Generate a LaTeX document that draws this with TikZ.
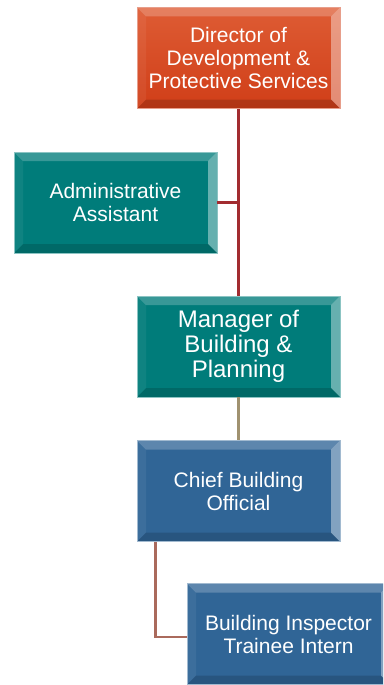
\documentclass[tikz,border=0pt]{standalone}
\usepackage{fontspec}
\setmainfont{Liberation Sans}
\usetikzlibrary{calc}

\definecolor{dirred}{RGB}{208,62,24}
\definecolor{dirredtop}{RGB}{222,92,52}
\definecolor{tealbox}{RGB}{0,124,122}
\definecolor{bluebox}{RGB}{48,101,150}
\definecolor{lineone}{RGB}{162,44,48}
\definecolor{linetwo}{RGB}{160,146,112}
\definecolor{linethree}{RGB}{170,106,92}

\newcommand{\bevelpp}{%
	\fill[white,opacity=.22] (path picture bounding box.north west) -- (path picture bounding box.north east)
		-- ([shift={(-9pt,-9pt)}]path picture bounding box.north east) -- ([shift={(9pt,-9pt)}]path picture bounding box.north west) -- cycle;
	\fill[white,opacity=.4] (path picture bounding box.north east) -- (path picture bounding box.south east)
		-- ([shift={(-9pt,9pt)}]path picture bounding box.south east) -- ([shift={(-9pt,-9pt)}]path picture bounding box.north east) -- cycle;
	\fill[black,opacity=.15] (path picture bounding box.south west) -- (path picture bounding box.south east)
		-- ([shift={(-9pt,9pt)}]path picture bounding box.south east) -- ([shift={(9pt,9pt)}]path picture bounding box.south west) -- cycle;
	\fill[white,opacity=.06] (path picture bounding box.north west) -- (path picture bounding box.south west)
		-- ([shift={(9pt,9pt)}]path picture bounding box.south west) -- ([shift={(9pt,-9pt)}]path picture bounding box.north west) -- cycle;
}

\begin{document}
\begin{tikzpicture}[
		x=1pt, y=-1pt,
		box/.style={rectangle, minimum width=203pt, minimum height=101pt, inner sep=0pt,
			text=white, align=center, font=\fontsize{21}{23}\selectfont, path picture={\bevelpp}},
		dirbox/.style={box, top color=dirredtop, bottom color=dirred, draw=dirred!50!white, line width=.8pt},
		tbox/.style={box, fill=tealbox, draw=tealbox!45!white, line width=.8pt},
		bbox/.style={box, fill=bluebox, draw=bluebox!45!white, line width=.8pt},
		conn/.style={line width=2.3pt}]
	%% frame
	\useasboundingbox (0,0) rectangle (383,685);
	\clip (0,0) rectangle (383,685);
	%% define boxes
	\node (dir) at (238.5,58) [dirbox] {Director of\\Development \&\\Protective Services};
	\node (adm) at (115.5,202.5) [tbox] {Administrative\\Assistant};
	\node (mgr) at (238.5,346.5) [tbox, font=\fontsize{24}{25}\selectfont] {Manager of\\Building \&\\Planning};
	\node (cbo) at (238.5,491) [bbox] {Chief Building\\Official};
	\node (bit) at (288.5,634) [bbox] {Building Inspector\\Trainee Intern};
	%% define lines
	\draw[conn, lineone] (dir.south) -- (mgr.north);
	\draw[conn, lineone] (adm.east) -- (adm.east -| dir.south);
	\draw[conn, linetwo] (mgr.south) -- (cbo.north);
	\draw[conn, linethree] ([xshift=19pt]cbo.south west) |- ([yshift=-3pt]bit.west);
\end{tikzpicture}
\end{document}
